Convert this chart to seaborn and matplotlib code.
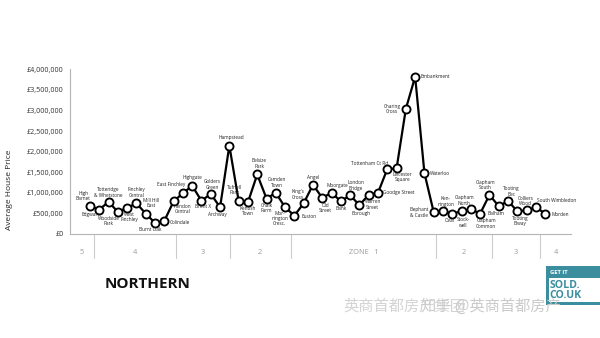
import matplotlib
matplotlib.use("Agg")
import matplotlib.pyplot as plt
import matplotlib.transforms as mtransforms
from matplotlib.patches import Rectangle
import numpy as np
import pandas as pd
import seaborn as sns

# ---------------- data ----------------
stations = [
    "High\nBarnet", "Edgware", "Totteridge\n& Whetstone", "Woodside\nPark", "West\nFinchley",
    "Finchley\nCentral", "Mill Hill\nEast", "Burnt Oak", "Colindale", "Hendon\nCentral",
    "East Finchley", "Highgate", "Brent X", "Golders\nGreen", "Archway",
    "Hampstead", "Tufnell\nPark", "Kentish\nTown", "Belsize\nPark", "Chalk\nFarm",
    "Camden\nTown", "Mor-\nnington\nCresc.", "Euston", "King's\nCross", "Angel",
    "Old\nStreet", "Moorgate", "Bank", "London\nBridge", "Borough",
    "Warren\nStreet", "Goodge Street", "Tottenham Ct Rd", "Leicester\nSquare", "Charing\nCross",
    "Embankment", "Waterloo", "Elephant\n& Castle", "Ken-\nnington", "Oval",
    "Stock-\nwell", "Clapham\nNorth", "Clapham\nCommon", "Clapham\nSouth", "Balham",
    "Tooting\nBec", "Tooting\nB'way", "Colliers\nWood", "South Wimbledon", "Morden",
]
prices = [
    675000, 595000, 780000, 537000, 634000,
    746000, 495000, 268000, 317000, 795000,
    990000, 1171000, 805000, 976000, 649000,
    2146000, 805000, 771000, 1446000, 861000,
    1000000, 649000, 446000, 746000, 1195000,
    878000, 1000000, 795000, 941000, 702000,
    951000, 1000000, 1576000, 1593000, 3039000,
    3820000, 1478000, 527000, 551000, 495000,
    551000, 600000, 495000, 951000, 673000,
    805000, 551000, 576000, 649000, 495000,
]
y_ticks = [0, 500000, 1000000, 1500000, 2000000, 2500000, 3000000, 3500000, 4000000]
zone_bounds = [0.45, 9.3, 15.05, 21.6, 37.25, 43.3, 48.45]
zone_labels = ["5", "4", "3", "2", "ZONE   1", "2", "3", "4"]
line_name = "NORTHERN"
watermark_1 = "英商首都房产集团"
watermark_2 = "知乎 @英商首都房产"

# label placement (pixels from marker: dx right, dy down, alignment)
label_layout = [
    (-6.7, -10.4, "center"), (-8.6, 5, "center"), (0, -9.3, "center"), (-9, 9.4, "center"), (2, 9.4, "center"),
    (0, -10.7, "center"), (5, -10.7, "center"), (-5, 6.4, "center"), (5, 2, "left"), (8.6, 8, "center"),
    (-11.3, -8.4, "center"), (0, -8.6, "center"), (1.6, 5.9, "center"), (1.6, -9.3, "center"), (-2.7, 7.3, "center"),
    (1.7, -8, "center"), (-4.4, -11, "center"), (0, 9, "center"), (2, -11, "center"), (0, 9.7, "center"),
    (1.3, -10.3, "center"), (-5.3, 11.3, "center"), (7.4, 0.7, "left"), (-6, -8.7, "center"), (0, -7.6, "center"),
    (3, 10, "center"), (5.7, -7.6, "center"), (0, 7.3, "center"), (5.7, -9.7, "center"), (2, 8.5, "center"),
    (4, 9.7, "center"), (5, 0, "left"), (1, -6, "right"), (6, 8.3, "center"), (-5.3, 0, "right"),
    (5.7, 0, "left"), (5.3, 0, "left"), (-5, 0, "right"), (2.7, -10, "center"), (-3, 7, "center"),
    (2, 11, "center"), (-6.7, -8.7, "center"), (6, 10, "center"), (-4.4, -9.6, "center"), (-2.3, 7.3, "center"),
    (3, -9.3, "center"), (3, 9.6, "center"), (-1.3, -9.4, "center"), (0.7, -6.7, "left"), (6.4, 0.7, "left"),
]

df = pd.DataFrame({"idx": np.arange(len(stations)), "price": prices, "station": stations})

# ---------------- style ----------------
sns.set_theme(style="white")
plt.rcParams["font.family"] = ["Open Sans", "DejaVu Sans"]

W, H = 600, 338
fig = plt.figure(figsize=(W / 100, H / 100), dpi=100)
fig.patch.set_facecolor("white")
ax_left, ax_right, ax_bottom, ax_top = 70, 571, 234, 69.3
ax = fig.add_axes([ax_left / W, 1 - ax_bottom / H, (ax_right - ax_left) / W, (ax_bottom - ax_top) / H])

sns.lineplot(data=df, x="idx", y="price", ax=ax, sort=False, color="black", linewidth=1.6,
             marker="o", markersize=5.8, markerfacecolor="white", markeredgecolor="black",
             markeredgewidth=1.35, zorder=3)

step = 9.29
ax.set_xlim(-(90 - ax_left) / step, (ax_right - 90) / step)
ax.set_ylim(0, 4000000)
ax.set_yticks(y_ticks)
ax.set_yticklabels([f"£{v:,}" for v in y_ticks], fontsize=5.2, color="#333333")
ax.tick_params(axis="y", length=0, pad=4.5)
ax.set_xticks([])
ax.set_xlabel("")
ax.set_ylabel("Average House Price", fontsize=6, color="#222222")
ax.yaxis.set_label_coords(-(ax_left - 13) / (ax_right - ax_left), (ax_bottom - 190) / (ax_bottom - ax_top))
for s in ["top", "right"]:
    ax.spines[s].set_visible(False)
for s in ["left", "bottom"]:
    ax.spines[s].set_color("#b5b5b5")
    ax.spines[s].set_linewidth(0.8)

# station labels
for i, (name, p) in enumerate(zip(stations, prices)):
    dx, dy, ha = label_layout[i]
    ax.annotate(name, (i, p), xytext=(dx, -dy), textcoords="offset pixels",
                ha=ha, va="center", fontsize=3.4, color="#222222", linespacing=1.1,
                multialignment="center", zorder=4)

# zone band below axis
trans = mtransforms.blended_transform_factory(ax.transData, ax.transAxes)
ax_h = ax_bottom - ax_top
for b in zone_bounds:
    ax.plot([b, b], [0, -24 / ax_h], transform=trans, color="#cccccc", lw=0.8, clip_on=False)
edges = [ax.get_xlim()[0]] + zone_bounds + [ax.get_xlim()[1]]
for k, lab in enumerate(zone_labels):
    xc = (edges[k] + edges[k + 1]) / 2
    ax.text(xc, -18 / ax_h, lab, transform=trans, ha="center", va="center",
            fontsize=5.3, color="#9a9a9a")

# line name
fig.text(147.5 / W, 1 - 284.3 / H, line_name, ha="center", va="center",
         fontsize=11, fontweight="bold", color="#111111")

# logo
teal = "#3a8e9e"
fig.patches.append(Rectangle((546 / W, 1 - 304.7 / H), (600 - 546) / W, (304.7 - 266.3) / H,
                             transform=fig.transFigure, facecolor=teal, edgecolor="none"))
fig.patches.append(Rectangle((548.5 / W, 1 - 302 / H), (600 - 548.5) / W, (302 - 278) / H,
                             transform=fig.transFigure, facecolor="white", edgecolor="none"))
fig.text(550 / W, 1 - 272.5 / H, "GET IT", ha="left", va="center", fontsize=4.2,
         fontweight="bold", color="white")
fig.text(549.5 / W, 1 - 290.5 / H, "SOLD.\nCO.UK", ha="left", va="center", fontsize=7.6,
         fontweight="bold", color=teal, linespacing=0.92)

# watermark (overlapping, as in the source image)
wm_family = ["Noto Sans CJK SC", "DejaVu Sans"]
fig.text(343 / W, 1 - 306 / H, watermark_1, ha="left", va="center", fontsize=11,
         color="#d4d4d4", family=wm_family, zorder=5)
fig.text(421 / W, 1 - 306 / H, watermark_2, ha="left", va="center", fontsize=11,
         color="#cbcbcb", family=wm_family, zorder=6)

fig.savefig("out.png", dpi=100, facecolor="white")
